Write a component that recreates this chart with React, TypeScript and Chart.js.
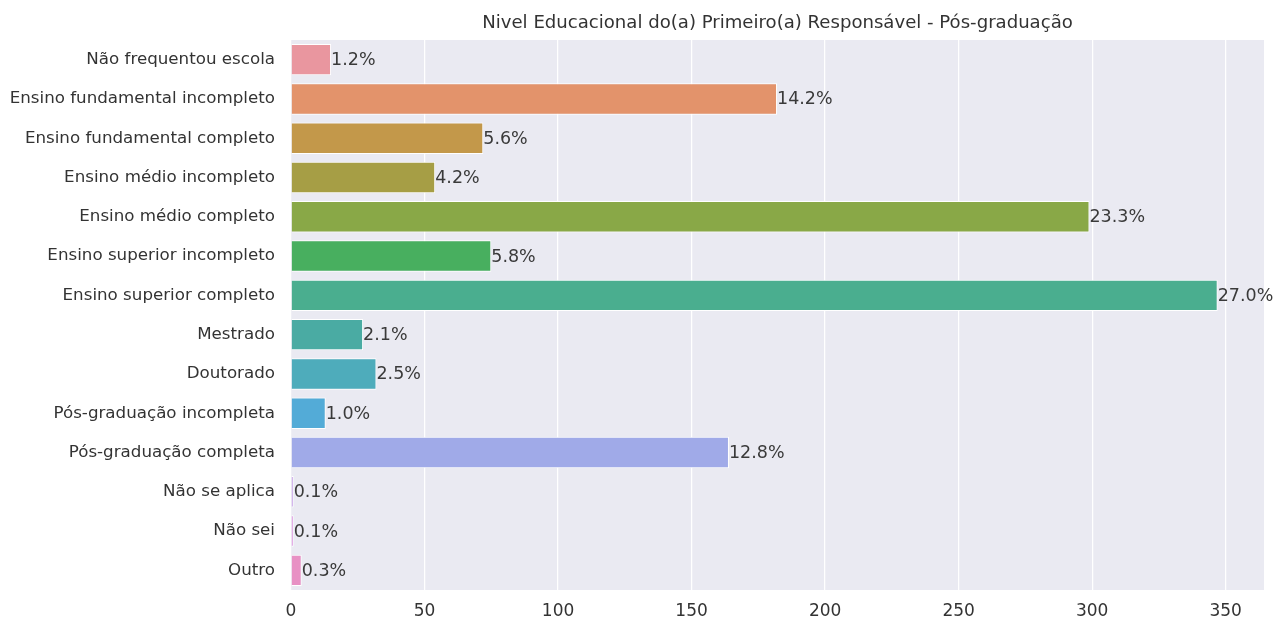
import React, { useEffect, useRef } from "react";
import { Chart, registerables } from "chart.js";

Chart.register(...registerables);

const TITLE = "Nivel Educacional do(a) Primeiro(a) Responsável - Pós-graduação";

const categories = [
  "Não frequentou escola",
  "Ensino fundamental incompleto",
  "Ensino fundamental completo",
  "Ensino médio incompleto",
  "Ensino médio completo",
  "Ensino superior incompleto",
  "Ensino superior completo",
  "Mestrado",
  "Doutorado",
  "Pós-graduação incompleta",
  "Pós-graduação completa",
  "Não se aplica",
  "Não sei",
  "Outro",
];

const counts = [15, 182, 72, 54, 299, 75, 347, 27, 32, 13, 164, 1, 1, 4];

const barColors = [
  "#e9969f",
  "#e3936b",
  "#c3984a",
  "#a69e45",
  "#89a847",
  "#48af5f",
  "#4aae8f",
  "#4aaba3",
  "#4eacbb",
  "#53abd7",
  "#a0aae8",
  "#c69be8",
  "#de8fdf",
  "#e891c4",
];

const xTickStep = 50;

const FONT = "'DejaVu Sans', sans-serif";

export default function App() {
  const canvasRef = useRef<HTMLCanvasElement | null>(null);

  useEffect(() => {
    const canvas = canvasRef.current;
    if (!canvas) return;
    const total = counts.reduce((a, b) => a + b, 0);
    const maxCount = Math.max(...counts);

    const decorations = {
      id: "decorations",
      beforeDraw(chart: any) {
        const { ctx, chartArea } = chart;
        ctx.save();
        ctx.fillStyle = "#eaeaf2";
        ctx.fillRect(
          chartArea.left,
          chartArea.top,
          chartArea.right - chartArea.left,
          chartArea.bottom - chartArea.top
        );
        ctx.restore();
      },
      afterDatasetsDraw(chart: any) {
        const { ctx, chartArea } = chart;
        const meta = chart.getDatasetMeta(0);
        ctx.save();
        ctx.font = `17.5px ${FONT}`;
        ctx.fillStyle = "#3a3a3a";
        ctx.textAlign = "left";
        ctx.textBaseline = "middle";
        meta.data.forEach((bar: any, i: number) => {
          const pct = ((counts[i] / total) * 100).toFixed(1) + "%";
          ctx.fillText(pct, bar.x, bar.y + 1);
        });
        // title
        ctx.font = `18.1px ${FONT}`;
        ctx.fillStyle = "#333333";
        ctx.textAlign = "center";
        ctx.fillText(TITLE, (chartArea.left + chartArea.right) / 2, 23);
        ctx.restore();
      },
    };

    const chart = new Chart(canvas, {
      type: "bar",
      data: {
        labels: categories,
        datasets: [
          {
            data: counts,
            backgroundColor: barColors,
            borderColor: "#ffffff",
            borderWidth: 1,
            barPercentage: 0.8,
            categoryPercentage: 1,
          },
        ],
      },
      options: {
        indexAxis: "y",
        animation: false,
        responsive: false,
        maintainAspectRatio: false,
        layout: { padding: { top: 40, right: 10, left: 0, bottom: 0 } },
        plugins: {
          legend: { display: false },
          tooltip: { enabled: false },
          title: { display: false },
        },
        scales: {
          x: {
            min: 0,
            max: maxCount * 1.05,
            afterFit: (scale: any) => {
              scale.height = 33;
            },
            ticks: {
              stepSize: xTickStep,
              includeBounds: false,
              color: "#333333",
              font: { family: FONT, size: 17 },
              padding: 11,
            },
            grid: { color: "#ffffff", lineWidth: 1.25, drawTicks: false },
            border: { display: false },
          },
          y: {
            afterFit: (scale: any) => {
              scale.width = 291;
            },
            ticks: {
              color: "#333333",
              font: { family: FONT, size: 16.7 },
              padding: 16,
            },
            grid: { display: false, drawTicks: false },
            border: { display: false },
          },
        },
      },
      plugins: [decorations],
    } as any);

    return () => chart.destroy();
  }, []);

  return (
    <div style={{ position: "fixed", left: 0, top: 0, width: 1274, height: 623, background: "#ffffff" }}>
      <canvas ref={canvasRef} width={1274} height={623} style={{ width: 1274, height: 623, display: "block" }} />
    </div>
  );
}
